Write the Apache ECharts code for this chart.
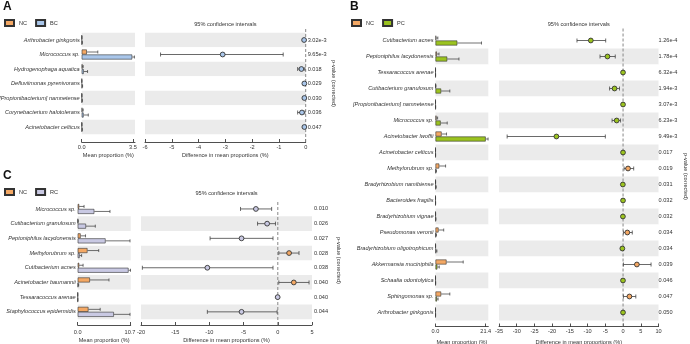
<!DOCTYPE html>
<html><head><meta charset="utf-8">
<script src="https://cdn.jsdelivr.net/npm/echarts@6/dist/echarts.min.js"></script>
<style>html,body{margin:0;padding:0;background:#fff}#c{width:690px;height:344px}</style>
</head><body><div id="c"></div>
<script>
// ---------- Panel A : NC vs BC ----------
const A_categories = ['Arthrobacter ginkgonis','Micrococcus sp.','Hydrogenophaga aquatica','Defluviimonas pyrenivorans','[Propionibacterium] namnetense','Corynebacterium halotolerans','Acinetobacter celticus'];
const A_NC = [0.01, 0.35, 0.05, 0.01, 0.01, 0.04, 0.01];
const A_NC_upper = [0.02, 1.10, 0.10, 0.02, 0.02, 0.10, 0.02];
const A_BC = [0.02, 3.45, 0.14, 0.03, 0.02, 0.13, 0.02];
const A_BC_upper = [0.04, 3.60, 0.40, 0.06, 0.04, 0.45, 0.04];
const A_diff = [-0.06, -3.10, -0.16, -0.05, -0.05, -0.14, -0.05];
const A_ci_low = [-0.10, -5.42, -0.30, -0.09, -0.09, -0.30, -0.09];
const A_ci_high = [-0.01, -0.84, -0.03, -0.01, -0.01, -0.03, -0.01];
const A_pvalues = ['3.02e-3','9.65e-3','0.018','0.029','0.030','0.036','0.047'];
const A_barTicks = [0, 3.5];

// ---------- Panel B : NC vs PC ----------
const B_categories = ['Cutibacterium acnes','Peptoniphilus lacydonensis','Tessaracoccus arenae','Cutibacterium granulosum','[Propionibacterium] namnetense','Micrococcus sp.','Acinetobacter lwoffii','Acinetobacter celticus','Methylorubrum sp.','Bradyrhizobium namibiense','Bacteroides fragilis','Bradyrhizobium vignae','Pseudomonas veronii','Bradyrhizobium oligotrophicum','Akkermansia muciniphila','Schaalia odontolytica','Sphingomonas sp.','Arthrobacter ginkgonis'];
const B_NC = [0.3, 0.6, 0.01, 0.05, 0.01, 0.4, 2.6, 0.01, 1.6, 0.02, 0.01, 0.02, 1.3, 0.02, 4.7, 0.01, 2.4, 0.01];
const B_NC_upper = [1.0, 1.5, 0.02, 0.2, 0.02, 0.9, 4.7, 0.02, 4.3, 0.05, 0.02, 0.05, 3.5, 0.05, 11.8, 0.02, 6.1, 0.02];
const B_PC = [9.3, 5.0, 0.02, 2.4, 0.03, 2.2, 21.4, 0.02, 0.15, 0.08, 0.02, 0.06, 0.12, 0.2, 0.8, 0.03, 0.6, 0.02];
const B_PC_upper = [19.6, 10.0, 0.04, 6.1, 0.06, 5.0, 22.4, 0.04, 0.4, 0.3, 0.05, 0.2, 0.4, 0.6, 1.6, 0.07, 1.1, 0.04];
const B_diff = [-9.1, -4.4, -0.01, -2.4, -0.01, -1.8, -18.8, -0.01, 1.4, -0.06, -0.01, -0.04, 1.2, -0.2, 3.9, -0.02, 1.8, -0.01];
const B_ci_low = [-13.0, -6.5, -0.05, -3.8, -0.05, -3.1, -32.7, -0.05, 0.3, -0.2, -0.05, -0.12, 0.1, -0.5, 0.1, -0.08, 0.1, -0.05];
const B_ci_high = [-4.9, -2.2, 0.0, -1.0, 0.0, -0.7, -5.0, 0.0, 3.0, 0.0, 0.0, 0.0, 2.6, 0.0, 7.9, 0.0, 3.6, 0.0];
const B_pvalues = ['1.26e-4','1.78e-4','6.32e-4','1.94e-3','3.07e-3','6.23e-3','9.49e-3','0.017','0.019','0.031','0.032','0.032','0.034','0.034','0.039','0.046','0.047','0.050'];
const B_barTicks = [0, 21.4];

// ---------- Panel C : NC vs RC ----------
const C_categories = ['Micrococcus sp.','Cutibacterium granulosum','Peptoniphilus lacydonensis','Methylorubrum sp.','Cutibacterium acnes','Acinetobacter baumannii','Tessaracoccus arenae','Staphylococcus epidermidis'];
const C_NC = [0.3, 0.05, 0.6, 2.0, 0.3, 2.5, 0.01, 2.2];
const C_NC_upper = [1.3, 0.1, 1.6, 4.3, 1.1, 6.4, 0.02, 4.6];
const C_RC = [3.4, 1.7, 5.7, 0.4, 10.4, 0.1, 0.02, 7.4];
const C_RC_upper = [6.6, 3.6, 10.7, 0.8, 10.8, 0.2, 0.04, 10.7];
const C_diff = [-3.2, -1.56, -5.3, 1.65, -10.3, 2.34, -0.02, -5.3];
const C_ci_low = [-5.45, -2.96, -9.9, 0.15, -19.8, 0.15, -0.06, -10.3];
const C_ci_high = [-0.9, -0.34, -0.7, 3.1, -0.7, 4.57, 0.0, -0.1];
const C_pvalues = ['0.010','0.026','0.027','0.028','0.038','0.040','0.040','0.044'];
const C_barTicks = [0, 10.7];

// ---------- style ----------
const FONT = '"Liberation Sans", Arial, sans-serif';
const FS = 5.6;
const TXT = '#333';
const BAND = '#ebebeb';
const NC_COLOR = '#f4a864';
const EDGE = '#333';

const option = {
  animation: false,
  backgroundColor: '#fff',
  textStyle: { fontFamily: FONT },
  title: [], legend: [], grid: [], xAxis: [], yAxis: [], series: []
};

function addPanel(cfg) {
  const n = cfg.cats.length;
  const gTop = cfg.rowTop;
  const gH = cfg.step * n;
  const bands = n % 2 === 1 ? [BAND, '#fff'] : ['#fff', BAND];
  const pv = cfg.pvals;

  option.title.push({ text: cfg.letter, left: cfg.letterX, top: cfg.letterY, padding: 0,
    textStyle: { fontSize: 12, fontWeight: 'bold', color: '#111', fontFamily: FONT } });
  option.title.push({ text: '95% confidence intervals', left: (cfg.diffLeft + cfg.diffRight) / 2, top: cfg.ciTitleY,
    textAlign: 'center', padding: 0, textStyle: { fontSize: FS, fontWeight: 'normal', color: TXT, fontFamily: FONT } });
  option.legend.push({ left: cfg.legendX, top: cfg.legendY, data: ['NC', cfg.g2Name], icon: 'rect',
    itemWidth: 9, itemHeight: 6, itemGap: 8, padding: 0, selectedMode: false,
    textStyle: { fontSize: FS, color: TXT, fontFamily: FONT } });

  const gi = option.grid.length;
  option.grid.push({ left: cfg.barLeft, top: gTop, width: cfg.barRight - cfg.barLeft, height: gH, containLabel: false, outerBoundsMode: 'none' });
  option.grid.push({ left: cfg.diffLeft, top: gTop, width: cfg.diffRight - cfg.diffLeft, height: gH, containLabel: false, outerBoundsMode: 'none' });
  option.grid.push({ left: cfg.diffLeft, top: cfg.dashTop, width: cfg.diffRight - cfg.diffLeft, height: cfg.axisY - cfg.dashTop, containLabel: false, outerBoundsMode: 'none' });

  const off = cfg.axisY - (gTop + gH);
  const axisLine = { show: true, lineStyle: { color: '#222', width: 0.8 } };
  const xi = option.xAxis.length;
  option.xAxis.push({ gridIndex: gi, type: 'value', min: 0, max: cfg.barMax, offset: off,
    axisLine, axisTick: { show: true, inside: true, length: 3, customValues: cfg.barTicks, lineStyle: { color: '#222', width: 0.8 } },
    axisLabel: { customValues: cfg.barTicks, formatter: v => v.toFixed(1), fontSize: FS, color: TXT, margin: cfg.labelMargin },
    splitLine: { show: false },
    name: 'Mean proportion (%)', nameLocation: 'middle', nameGap: cfg.nameGap, nameTextStyle: { fontSize: FS, color: TXT } });
  option.xAxis.push({ gridIndex: gi + 1, type: 'value', min: cfg.diffMin, max: cfg.diffMax, interval: cfg.diffInt, offset: off,
    axisLine, axisTick: { show: true, inside: true, length: 3, lineStyle: { color: '#222', width: 0.8 } },
    axisLabel: { fontSize: FS, color: TXT, margin: cfg.labelMargin, showMinLabel: true, showMaxLabel: true },
    splitLine: { show: false },
    name: 'Difference in mean proportions (%)', nameLocation: 'middle', nameGap: cfg.nameGap, nameTextStyle: { fontSize: FS, color: TXT } });
  option.xAxis.push({ gridIndex: gi + 2, type: 'value', min: cfg.diffMin, max: cfg.diffMax, show: false });

  const yi = option.yAxis.length;
  option.yAxis.push({ gridIndex: gi, type: 'category', inverse: true, data: cfg.cats,
    axisLine: { show: false }, axisTick: { show: false },
    axisLabel: { fontSize: FS, fontStyle: 'italic', color: TXT, margin: 2 },
    splitLine: { show: false }, splitArea: { show: true, areaStyle: { color: bands } } });
  option.yAxis.push({ gridIndex: gi + 1, type: 'category', inverse: true, data: cfg.cats, position: 'right',
    axisLine: { show: false }, axisTick: { show: false },
    axisLabel: { formatter: (v, i) => pv[i], fontSize: FS, color: TXT, margin: cfg.pMargin },
    splitLine: { show: false }, splitArea: { show: true, areaStyle: { color: bands } },
    name: 'p-value (corrected)', nameLocation: 'middle', nameRotate: -90, nameGap: cfg.pNameGap,
    nameTextStyle: { fontSize: FS, color: TXT } });
  option.yAxis.push({ gridIndex: gi + 2, type: 'value', min: 0, max: 1, show: false });

  const bw = cfg.bw;
  option.series.push({ type: 'bar', name: 'NC', xAxisIndex: xi, yAxisIndex: yi, data: cfg.nc, barWidth: bw, barGap: '0%',
    itemStyle: { color: NC_COLOR, borderColor: EDGE, borderWidth: 0.6 }, silent: true });
  option.series.push({ type: 'bar', name: cfg.g2Name, xAxisIndex: xi, yAxisIndex: yi, data: cfg.g2, barWidth: bw, barGap: '0%',
    itemStyle: { color: cfg.g2Color, borderColor: EDGE, borderWidth: 0.6 }, silent: true });

  function errSeries(means, uppers, sign, nm) {
    return { type: 'custom', name: nm, xAxisIndex: xi, yAxisIndex: yi, silent: true, z: 3,
      data: means.map((m, i) => [m, uppers[i], i]),
      encode: { x: [0, 1], y: 2 },
      renderItem: function (params, api) {
        const i = api.value(2);
        const a = api.coord([api.value(0), i]);
        const b = api.coord([api.value(1), i]);
        const y = a[1] + sign * bw / 2;
        const st = { stroke: '#333', lineWidth: 0.7 };
        return { type: 'group', children: [
          { type: 'line', shape: { x1: a[0], y1: y, x2: b[0], y2: y }, style: st },
          { type: 'line', shape: { x1: b[0], y1: y - 1.5, x2: b[0], y2: y + 1.5 }, style: st }
        ] };
      } };
  }
  option.series.push(errSeries(cfg.nc, cfg.ncUp, -1, 'errNC' + cfg.letter));
  option.series.push(errSeries(cfg.g2, cfg.g2Up, 1, 'errG2' + cfg.letter));

  option.series.push({ type: 'line', name: 'zero' + cfg.letter, xAxisIndex: xi + 2, yAxisIndex: yi + 2,
    data: [[0, 0], [0, 1]], symbol: 'none', silent: true,
    lineStyle: { color: '#888', width: 1, type: [3, 2] } });

  const g2c = cfg.g2Color;
  option.series.push({ type: 'custom', name: 'ci' + cfg.letter, xAxisIndex: xi + 1, yAxisIndex: yi + 1, silent: true, z: 4,
    data: cfg.diff.map((d, i) => [d, cfg.lo[i], cfg.hi[i], i]),
    encode: { x: [0, 1, 2], y: 3 },
    renderItem: function (params, api) {
      const i = api.value(3);
      const m = api.coord([api.value(0), i]);
      const l = api.coord([api.value(1), i]);
      const h = api.coord([api.value(2), i]);
      const st = { stroke: '#444', lineWidth: 0.8 };
      return { type: 'group', children: [
        { type: 'line', shape: { x1: l[0], y1: l[1], x2: h[0], y2: h[1] }, style: st },
        { type: 'line', shape: { x1: l[0], y1: l[1] - 2, x2: l[0], y2: l[1] + 2 }, style: st },
        { type: 'line', shape: { x1: h[0], y1: h[1] - 2, x2: h[0], y2: h[1] + 2 }, style: st },
        { type: 'circle', shape: { cx: m[0], cy: m[1], r: 2.4 },
          style: { fill: api.value(0) > 0 ? NC_COLOR : g2c, stroke: '#333', lineWidth: 0.9 } }
      ] };
    } });
}

addPanel({ letter: 'A', letterX: 3, letterY: 1, legendX: 4, legendY: 19,
  cats: A_categories, pvals: A_pvalues, g2Name: 'BC', g2Color: '#a9c6ea',
  nc: A_NC, ncUp: A_NC_upper, g2: A_BC, g2Up: A_BC_upper, diff: A_diff, lo: A_ci_low, hi: A_ci_high,
  barLeft: 81.7, barRight: 135, barMax: 3.64, barTicks: A_barTicks,
  rowTop: 32.75, step: 14.5, axisY: 142, bw: 5,
  diffLeft: 145, diffRight: 305.7, diffMin: -6, diffMax: 0, diffInt: 1,
  dashTop: 28, ciTitleY: 21.5, labelMargin: 2.5, nameGap: 10, pMargin: 2, pNameGap: 23.5 });

addPanel({ letter: 'B', letterX: 350, letterY: 1, legendX: 351, legendY: 19,
  cats: B_categories, pvals: B_pvalues, g2Name: 'PC', g2Color: '#9bc31f',
  nc: B_NC, ncUp: B_NC_upper, g2: B_PC, g2Up: B_PC_upper, diff: B_diff, lo: B_ci_low, hi: B_ci_high,
  barLeft: 435.5, barRight: 488.3, barMax: 22.5, barTicks: B_barTicks,
  rowTop: 32.5, step: 16, axisY: 326.5, bw: 5,
  diffLeft: 499, diffRight: 658.5, diffMin: -35, diffMax: 10, diffInt: 5,
  dashTop: 27, ciTitleY: 21.5, labelMargin: 2, nameGap: 6.5, pMargin: 0, pNameGap: 24 });

addPanel({ letter: 'C', letterX: 3, letterY: 170, legendX: 4, legendY: 188,
  cats: C_categories, pvals: C_pvalues, g2Name: 'RC', g2Color: '#c9c9e3',
  nc: C_NC, ncUp: C_NC_upper, g2: C_RC, g2Up: C_RC_upper, diff: C_diff, lo: C_ci_low, hi: C_ci_high,
  barLeft: 77.7, barRight: 130.7, barMax: 10.84, barTicks: C_barTicks,
  rowTop: 201.6, step: 14.7, axisY: 325, bw: 5,
  diffLeft: 141, diffRight: 312, diffMin: -20, diffMax: 5, diffInt: 5,
  dashTop: 202, ciTitleY: 190.5, labelMargin: 4, nameGap: 12.5, pMargin: 2, pNameGap: 24 });

const chart = echarts.init(document.getElementById('c'), null, { renderer: 'canvas' });
chart.setOption(option);
</script>
</body></html>
